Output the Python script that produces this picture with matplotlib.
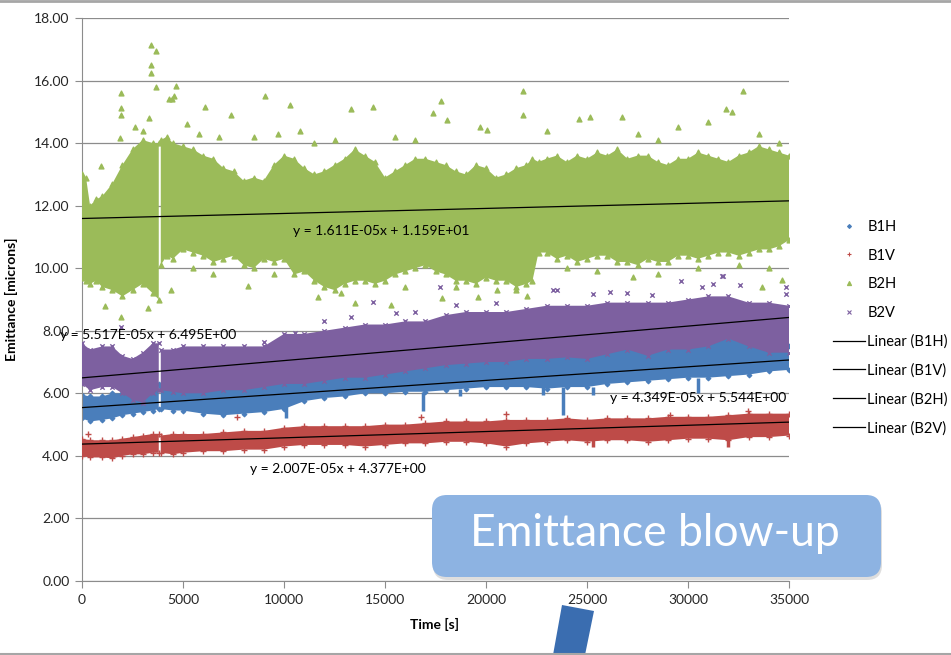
import numpy as np
import matplotlib
matplotlib.use("Agg")
import matplotlib.pyplot as plt
from matplotlib.lines import Line2D
from matplotlib.patches import FancyBboxPatch, Polygon
from matplotlib.transforms import IdentityTransform

plt.rcParams['font.family'] = ['Lato', 'DejaVu Sans']

nan = np.nan

# sample times [s]; the nan splits the record at the ~3850 s interruption
t = [0, 400, 1000, 1500, 2000, 2500, 3000, 3500, 3800, nan, 3900, 4500, 5000,
     6000, 7000, 8000, 9000, 10000, 11000, 12000, 13000, 14000, 15000, 16000,
     17000, 18000, 19000, 20000, 21000, 22000, 23000, 24000, 25000, 26000,
     27000, 28000, 29000, 30000, 31000, 32000, 33000, 34000, 35000]

# envelope of each emittance cloud [microns]
b1h_lo = [5.2, 5.1, 5.15, 5.2, 5.3, 5.35, 5.4, 5.45, 5.5, nan, 5.5, 5.45, 5.45,
          5.35, 5.3, 5.35, 5.4, 5.5, 5.75, 5.85, 5.9, 6.0, 6.0, 6.05,
          6.05, 6.1, 6.15, 6.2, 6.2, 6.2, 6.15, 6.2, 6.2, 6.3,
          6.35, 6.4, 6.45, 6.5, 6.5, 6.55, 6.6, 6.7, 6.75]
b1h_hi = [5.95, 5.9, 5.9, 6.0, 6.0, 6.1, 6.2, 6.3, 6.3, nan, 6.2, 6.2, 6.3,
          6.3, 6.4, 6.4, 6.5, 6.6, 6.6, 6.7, 6.8, 6.8, 6.9, 7.0,
          7.1, 7.2, 7.25, 7.3, 7.3, 7.4, 7.4, 7.45, 7.4, 7.5,
          7.6, 7.5, 7.6, 7.65, 7.7, 7.9, 7.7, 7.5, 7.5]
b1v_lo = [4.0, 3.95, 3.95, 3.92, 4.0, 4.05, 4.05, 4.1, 4.1, nan, 4.1, 4.05, 4.1,
          4.15, 4.15, 4.2, 4.2, 4.3, 4.35, 4.35, 4.35, 4.3, 4.35, 4.4,
          4.4, 4.45, 4.45, 4.4, 4.3, 4.4, 4.45, 4.5, 4.45, 4.5,
          4.5, 4.45, 4.5, 4.55, 4.55, 4.5, 4.6, 4.6, 4.65]
b1v_hi = [4.55, 4.5, 4.5, 4.5, 4.55, 4.6, 4.65, 4.7, 4.7, nan, 4.65, 4.7, 4.7,
          4.7, 4.75, 4.8, 4.8, 4.9, 4.95, 4.95, 4.95, 4.95, 5.0, 5.0,
          5.05, 5.1, 5.1, 5.1, 5.15, 5.15, 5.15, 5.2, 5.15, 5.2,
          5.2, 5.2, 5.25, 5.25, 5.25, 5.3, 5.35, 5.35, 5.35]
b2v_lo = [6.3, 6.1, 6.2, 6.2, 6.0, 5.8, 5.7, 6.0, 6.1, nan, 6.1, 6.05, 6.0,
          6.0, 6.1, 6.1, 6.2, 6.3, 6.3, 6.4, 6.5, 6.5, 6.6, 6.7,
          6.8, 6.9, 6.95, 7.0, 7.0, 7.1, 7.1, 7.15, 7.1, 7.25,
          7.4, 7.2, 7.4, 7.4, 7.5, 7.75, 7.5, 7.3, 7.3]
b2v_hi = [7.6, 7.4, 7.5, 7.5, 7.2, 7.1, 7.3, 7.6, 7.6, nan, 7.4, 7.4, 7.5,
          7.5, 7.5, 7.5, 7.5, 7.9, 7.9, 8.0, 8.1, 8.2, 8.2, 8.3,
          8.3, 8.5, 8.6, 8.6, 8.6, 8.7, 8.8, 8.8, 8.8, 8.9,
          8.9, 8.9, 8.9, 9.0, 9.1, 9.1, 8.9, 8.9, 8.8]

# B2H is wider and rougher, so it gets a finer time base
b2h_t = [0, 200, 400, 700, 1000, 1500, 2000, 2500, 3000, 3500, 3800, nan,
         3900, 4200, 4500,
         5000, 5500, 6000, 6500, 7000, 7500, 8000, 8500, 9000, 9500,
         10000, 10500, 11000, 11500, 12000, 12500, 13000, 13500, 14000, 14500,
         15000, 15500, 16000, 16500, 17000, 17500, 18000, 18500, 19000, 19500,
         20000, 20500, 21000, 21500, 22000,
         22300, 22600,
         23000, 23500, 24000, 24500, 25000, 25500, 26000, 26500, 27000, 27500,
         28000, 28500, 29000, 29500, 30000, 30500, 31000, 31500, 32000, 32500,
         33000, 33500, 34000, 34500, 35000]
b2h_hi = [13.0, 12.9, 12.0, 12.2, 12.3, 12.7, 13.3, 13.8, 14.1, 14.0, 14.0, nan,
          14.1, 14.2, 14.0,
          13.9, 13.8, 13.6, 13.5, 13.2, 13.1, 12.8, 12.9, 12.8, 13.3,
          13.6, 13.5, 13.2, 13.0, 13.1, 13.3, 13.5, 13.8, 13.6, 13.4,
          12.9, 13.1, 13.3, 13.5, 13.5, 13.4, 13.3, 13.1, 13.0, 13.3,
          13.2, 12.9, 13.0, 13.2, 13.3,
          13.5, 13.4,
          13.5, 13.6, 13.4, 13.6, 13.5, 13.7, 13.6, 13.8, 13.5, 13.6,
          13.6, 13.4, 13.3, 13.5, 13.5, 13.7, 13.6, 13.5, 13.4, 13.6,
          13.7, 13.9, 13.8, 13.7, 13.6]
b2h_lo = [9.7, 9.6, 9.5, 9.6, 9.4, 9.3, 9.1, 9.3, 9.5, 9.2, 9.0, nan,
          10.1, 10.4, 10.3,
          10.6, 10.5, 10.4, 10.2, 10.3, 10.4, 10.1, 10.0, 10.3, 10.2,
          10.3, 9.8, 9.9, 9.6, 9.4, 9.3, 9.5, 9.6, 9.6, 9.5,
          9.6, 9.8, 9.9, 10.0, 10.1, 9.9, 9.8, 9.6, 9.6, 9.5,
          9.7, 9.6, 9.6, 9.4, 9.5,
          9.6, 10.5,
          10.5, 10.3, 10.4, 10.2, 10.3, 10.4, 10.4, 10.2, 10.2, 10.1,
          10.3, 10.2, 10.2, 10.4, 10.4, 10.3, 10.4, 10.5, 10.5, 10.4,
          10.5, 10.6, 10.6, 10.7, 10.9]

# short downward excursions
b1h_dip_t = [10100, 16900, 18700, 22800, 23800, 25300, 30500]
b1h_dip_lo = [5.2, 5.45, 5.9, 5.95, 5.3, 5.95, 6.0]
b1h_dip_hi = [5.6, 6.05, 6.15, 6.2, 6.2, 6.2, 6.5]
b1v_dip_t = [25300, 32000]
b1v_dip_lo = [4.3, 4.3]
b1v_dip_hi = [4.5, 4.55]

# isolated points away from the clouds
b2h_out_t = [924, 1897, 1914, 1930, 1930, 3432, 3680, 3432, 3432, 3680, 4637, 4300,
             4460, 4550, 9043, 10296, 13333, 14405, 7392, 6072, 3267, 1930, 1122,
             4422, 8217, 11682, 13498, 15311, 21846, 32736, 17754, 31900, 32200,
             21846, 26714, 25146, 24600, 31000, 20033, 18052, 19700, 17358, 22011,
             33645, 34636, 27258, 19618, 20527, 17820,
             2600, 3000, 3300, 5200, 5800, 6800, 8500, 9700, 10800, 11500, 12500,
             15500, 16500, 23000, 27500, 28500, 29500, 33500, 34500,
             5500, 6500, 9500, 12800, 16000, 18500, 21500, 24000, 25500, 28500,
             30500, 32500, 34000]
b2h_out_v = [13.28, 14.15, 15.61, 15.13, 14.9, 17.14, 16.95, 16.5, 16.25, 15.78, 15.83, 15.4,
             15.4, 15.5, 15.5, 15.22, 15.08, 15.16, 14.9, 15.16, 8.72, 8.45, 8.79,
             9.3, 9.43, 9.09, 8.88, 8.83, 15.68, 15.68, 15.36, 15.1, 15.0,
             14.9, 14.85, 14.85, 14.78, 14.69, 14.42, 14.74, 14.53, 14.95, 9.11,
             9.41, 9.62, 9.71, 9.09, 9.3, 9.04,
             14.5, 14.4, 14.8, 14.6, 14.3, 14.2, 14.2, 14.3, 14.4, 14.0, 14.1,
             14.2, 14.1, 14.4, 14.3, 14.1, 14.5, 14.3, 14.0,
             10.0, 9.8, 9.8, 9.2, 9.4, 9.4, 9.3, 10.0, 9.9, 9.8,
             10.0, 10.1, 10.0]
b2v_out_t = [1914, 14405, 15560, 13316, 10530, 9000, 31745, 31250, 26136, 23496, 25311,
             34848, 32571, 30675, 28200, 18513, 23330, 29650, 17721, 31663, 34833,
             12000, 16500, 20500, 27000]
b2v_out_v = [8.13, 8.91, 8.56, 8.45, 7.92, 7.65, 9.75, 9.5, 9.25, 9.3, 9.18,
             9.18, 9.46, 9.39, 9.14, 8.82, 9.3, 9.6, 9.41, 9.75, 9.39,
             8.3, 8.6, 8.9, 9.2]
b1v_out_t = [29106, 32984, 7687, 300, 21000, 16800]
b1v_out_v = [5.31, 5.44, 5.25, 4.7, 5.35, 5.25]

# least-squares fits quoted on the chart
fit_names = ['B1H', 'B1V', 'B2H', 'B2V']
fit_slope = [4.349e-05, 2.007e-05, 1.611e-05, 5.517e-05]
fit_icpt = [5.544, 4.377, 11.59, 6.495]
fit_label_xy = [(26136, 5.86), (8316, 3.58), (10445, 11.19), (-1089, 7.87)]

W, H = 951, 655
fig = plt.figure(figsize=(W / 100, H / 100), dpi=100)
ax = fig.add_axes([82 / W, 1 - 581 / H, (789 - 82) / W, (581 - 18) / H])

series = [
    ('B1H', t, b1h_lo, b1h_hi, '#4A7EBB', 'D', 5),
    ('B1V', t, b1v_lo, b1v_hi, '#BE4B48', '+', 14),
    ('B2H', b2h_t, b2h_lo, b2h_hi, '#9BBB59', '^', 12),
    ('B2V', t, b2v_lo, b2v_hi, '#7D60A0', 'x', 10),
]
outliers = {'B1V': (b1v_out_t, b1v_out_v), 'B2H': (b2h_out_t, b2h_out_v),
            'B2V': (b2v_out_t, b2v_out_v)}
dips = {'B1H': (b1h_dip_t, b1h_dip_lo, b1h_dip_hi),
        'B1V': (b1v_dip_t, b1v_dip_lo, b1v_dip_hi)}

for i, (name, ts, lo, hi, col, mk, ms) in enumerate(series):
    z = 2 + i
    ax.fill_between(ts, lo, hi, color=col, lw=0, zorder=z)
    ax.scatter(ts, lo, marker=mk, s=ms, color=col, lw=1, zorder=z)
    ax.scatter(ts, hi, marker=mk, s=ms, color=col, lw=1, zorder=z)
    if name in dips:
        dt, dlo, dhi = dips[name]
        ax.vlines(dt, dlo, dhi, color=col, lw=2.5, zorder=z)
    if name in outliers:
        ot, ov = outliers[name]
        ax.scatter(ot, ov, marker=mk, s=ms, color=col, lw=1, zorder=z)

# trend lines and their equations
t_fit = np.array([0, 35000])
for name, m, b, (lx, ly) in zip(fit_names, fit_slope, fit_icpt, fit_label_xy):
    ax.plot(t_fit, m * t_fit + b, color='black', lw=0.9, zorder=10)
    ax.text(lx, ly, f'y = {m:.3E}x + {b:.3E}', fontsize=10, ha='left',
            va='center', zorder=11, clip_on=False)

ax.set_xlim(0, 35000)
ax.set_ylim(0, 18)
ax.set_xticks(np.arange(0, 35001, 5000))
ax.set_yticks(np.arange(0, 18.01, 2))
ax.yaxis.set_major_formatter(matplotlib.ticker.FormatStrFormatter('%.2f'))
ax.yaxis.grid(True, color='#8C8C8C', lw=0.9)
ax.set_axisbelow(True)
for s in ['top', 'right']:
    ax.spines[s].set_visible(False)
for s in ['left', 'bottom']:
    ax.spines[s].set_color('#8C8C8C')
ax.tick_params(axis='both', direction='out', length=5, color='#8C8C8C',
               labelsize=10, labelcolor='#262626', pad=4)
ax.set_ylabel('Emittance [microns]', fontsize=10, fontweight='bold')
ax.yaxis.set_label_coords(-(82 - 18) / 707, 0.5)
ax.set_xlabel('Time [s]', fontsize=10, fontweight='bold')
ax.xaxis.set_label_coords(0.498, -0.066)

handles = [Line2D([], [], ls='none', marker=mk, ms=3 if mk != 'D' else 2,
                  color=col, mew=0.8) for _, _, _, _, col, mk, _ in series]
handles += [Line2D([], [], color='black', lw=0.9) for _ in fit_names]
labels = fit_names + [f'Linear ({n})' for n in fit_names]
ax.legend(handles, labels, loc='upper left', bbox_to_anchor=(833 / W, 1 - 220 / H),
          bbox_transform=fig.transFigure, frameon=False, fontsize=10.5,
          handlelength=2.2, handletextpad=0.15, labelspacing=1.0,
          borderpad=0, borderaxespad=0)

# slide decorations: border lines, callout box and pointer
px = IdentityTransform()
fig.add_artist(Line2D([0, W], [H - 1, H - 1], color='#A6A6A6', lw=2, transform=px))
fig.add_artist(Line2D([0, W], [H - 653.5, H - 653.5], color='#A6A6A6', lw=1.5, transform=px))

bx0, by0, bx1, by1 = 432, 495, 881, 577
fig.add_artist(FancyBboxPatch((bx0 + 1, H - by1 - 3), bx1 - bx0, by1 - by0,
                              boxstyle='round,pad=0,rounding_size=15',
                              fc='#7F7F7F', ec='none', alpha=0.25, transform=px))
fig.add_artist(FancyBboxPatch((bx0, H - by1), bx1 - bx0, by1 - by0,
                              boxstyle='round,pad=0,rounding_size=15',
                              fc='#8DB3E2', ec='none', transform=px))
fig.text(655 / W, 1 - 534 / H, 'Emittance blow-up', color='white', fontsize=32,
         ha='center', va='center')

fig.add_artist(Polygon([(562, H - 605), (594, H - 611), (585, H - 655), (553, H - 655)],
                       closed=True, fc='#3A6DB0', ec='none', transform=px))

fig.savefig('out.png', dpi=100)
